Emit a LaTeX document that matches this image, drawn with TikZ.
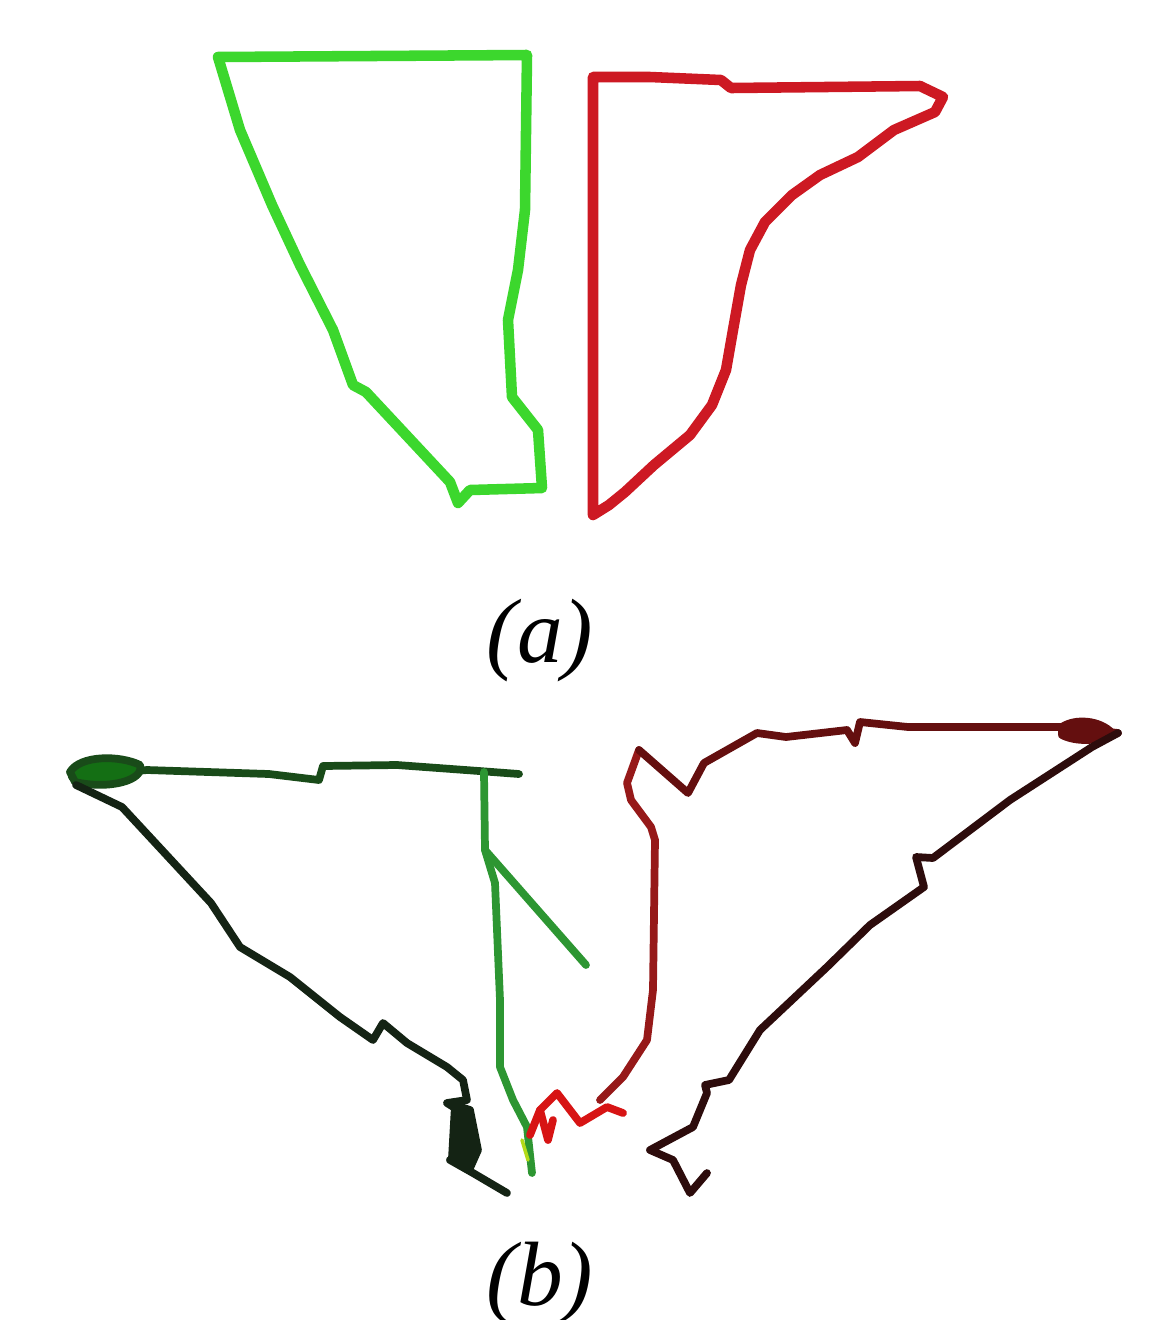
\documentclass[tikz,border=0pt]{standalone}
\usepackage{fontspec}
\setmainfont{Liberation Serif}
\definecolor{ga}{RGB}{60,215,45}
\definecolor{ra}{RGB}{205,25,35}
\definecolor{gdark}{RGB}{25,75,25}
\definecolor{gblack}{RGB}{20,35,20}
\definecolor{gmid}{RGB}{45,150,50}
\definecolor{rmid}{RGB}{150,25,25}
\definecolor{rtop}{RGB}{100,15,15}
\definecolor{rblack}{RGB}{45,12,12}
\definecolor{rbright}{RGB}{215,20,20}
\begin{document}
\begin{tikzpicture}[x=0.02cm,y=-0.02cm,line join=round,line cap=round,
  shapeA/.style={line width=6pt},
  shapeB/.style={line width=4.4pt},
  lab/.style={font=\fontsize{52}{60}\selectfont\itshape,inner sep=0pt,anchor=base}]
\useasboundingbox[fill=white] (0,0) rectangle (1175,1320);
% ---- (a) green
\draw[shapeA,ga] (218,57) -- (527,55) -- (525,210) -- (518,270) -- (508,320) -- (512,397)
  -- (538,430) -- (542,488) -- (470,490) -- (458,503) -- (450,482) -- (366,392) -- (353,385)
  -- (333,330) -- (300,265) -- (272,205) -- (240,130) -- cycle;
% ---- (a) red
\draw[shapeA,ra] (593,77) -- (650,77) -- (721,80) -- (731,88) -- (920,86) -- (943,97)
  -- (935,112) -- (894,130) -- (858,157) -- (820,175) -- (792,195) -- (765,222)
  -- (750,250) -- (741,285) -- (733,330) -- (726,370) -- (712,405) -- (690,435)
  -- (654,465) -- (625,492) -- (609,505) -- (593,515) -- cycle;
\node[lab] (la) at (540,662) {(a)};
% ---- (b) left figure
\draw[shapeB,gdark] (72,777) -- (147,770) -- (269,774) -- (319,780) -- (323,766)
  -- (397,765) -- (479,771) -- (519,774);
\draw[shapeB,gdark,fill=gdark!80!green] (70,772) .. controls (80,755) and (120,755) .. (140,765)
  .. controls (145,780) and (110,790) .. (75,782) -- cycle;
\draw[shapeB,gmid] (484,772) -- (485,850) -- (495,883) -- (500,1000) -- (500,1067)
  -- (513,1100) -- (527,1127) -- (532,1173);
\draw[shapeB,gmid] (485,850) -- (586,965);
\draw[shapeB,gblack] (76,785) -- (122,807) -- (211,903) -- (240,947) -- (290,977)
  -- (340,1017) -- (373,1040) -- (383,1023) -- (407,1043) -- (447,1067) -- (463,1080)
  -- (467,1100) -- (447,1103) -- (463,1113) -- (470,1150) -- (450,1160) -- (473,1173)
  -- (507,1193);
\draw[shapeB,gblack,fill=gblack] (455,1105) -- (470,1110) -- (478,1150) -- (470,1168) -- (452,1158) -- cycle;
% ---- (b) right figure
\draw[shapeB,rbright] (530,1135) -- (540,1110) -- (557,1093) -- (580,1123) -- (607,1107) -- (623,1113);
\draw[shapeB,rbright] (540,1110) -- (548,1140) -- (553,1120);
\draw[shapeB,rmid] (600,1100) -- (623,1077) -- (647,1040) -- (653,990) -- (655,840)
  -- (651,827) -- (631,800) -- (627,783) -- (639,750);
\draw[shapeB,rtop] (639,750) -- (688,793) -- (704,763) -- (757,733) -- (786,737)
  -- (847,730) -- (855,743) -- (860,722) -- (908,727) -- (1063,727) -- (1118,733);
\draw[shapeB,rtop,fill=rtop] (1062,727) .. controls (1075,718) and (1100,720) .. (1112,733)
  .. controls (1100,742) and (1075,742) .. (1062,735) -- cycle;
\draw[shapeB,rblack] (1118,733) -- (1092,747) -- (1010,800) -- (933,858) -- (916,857)
  -- (924,887) -- (870,925) -- (827,967) -- (760,1030) -- (729,1080) -- (705,1085)
  -- (707,1093) -- (693,1127) -- (650,1150) -- (673,1160) -- (690,1193) -- (707,1173);
\draw[shapeB,yellow!70!green,line width=2pt] (522,1140) -- (528,1160);
\node[lab] (lb) at (540,1305) {(b)};
\end{tikzpicture}
\end{document}
